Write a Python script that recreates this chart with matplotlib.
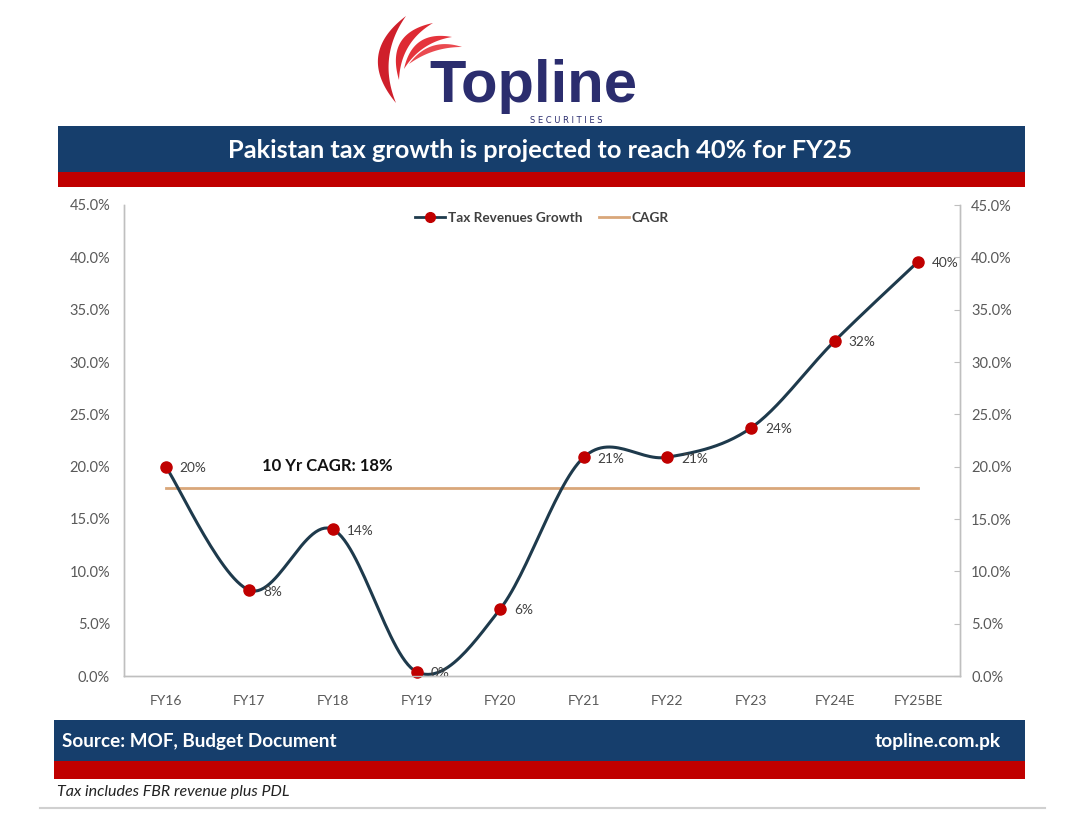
import numpy as np
import matplotlib
matplotlib.use("Agg")
import matplotlib.pyplot as plt
from matplotlib.patches import Rectangle, Polygon
from matplotlib.lines import Line2D

# ---------------- data ----------------
categories = ["FY16", "FY17", "FY18", "FY19", "FY20", "FY21", "FY22", "FY23", "FY24E", "FY25BE"]
growth = [20.0, 8.2, 14.0, 0.4, 6.4, 20.9, 20.9, 23.7, 32.0, 39.6]
growth_labels = ["20%", "8%", "14%", "0%", "6%", "21%", "21%", "24%", "32%", "40%"]
cagr = [18.0] * len(categories)
yticks = [0, 5, 10, 15, 20, 25, 30, 35, 40, 45]

NAVY = "#163e6c"
RED = "#c00000"
LINE = "#1e3a4c"
CAGR_C = "#d9a77a"
TICK_C = "#595959"
LOGO_NAVY = "#2b2d6e"

W, H = 1080, 824
fig = plt.figure(figsize=(W / 100, H / 100), dpi=100)
fig.patch.set_facecolor("white")

# overlay in pixel coordinates
ov = fig.add_axes([0, 0, 1, 1])
ov.set_xlim(0, W)
ov.set_ylim(H, 0)
ov.axis("off")
ov.set_zorder(0)

# banners
ov.add_patch(Rectangle((58, 126), 967, 46, color=NAVY, lw=0))
ov.add_patch(Rectangle((58, 172), 967, 15, color=RED, lw=0))
ov.add_patch(Rectangle((54, 720), 971, 41, color=NAVY, lw=0))
ov.add_patch(Rectangle((54, 761), 971, 18, color=RED, lw=0))
ov.plot([40, 1045], [808, 808], color="#d0d0d0", lw=1.5)

ov.text(540, 150, "Pakistan tax growth is projected to reach 40% for FY25", color="white",
        fontsize=18.3, fontweight="bold", family="Lato", ha="center", va="center")
ov.text(62, 742, "Source: MOF, Budget Document", color="white", fontsize=13.6,
        fontweight="bold", family="Lato", ha="left", va="center")
ov.text(1001, 742, "topline.com.pk", color="white", fontsize=13.8,
        fontweight="bold", family="Lato", ha="right", va="center")
ov.text(57, 792, "Tax includes FBR revenue plus PDL", color="#222222", fontsize=11.5,
        style="italic", family="Lato", ha="left", va="center")

# logo streaks (crescents bulging toward the upper-left)
def crescent(tail, tip, bulge_out, bulge_in, color):
    tail = np.array(tail, float)
    tip = np.array(tip, float)
    t = np.linspace(0, 1, 50)[:, None]
    d = tip - tail
    n = np.array([d[1], -d[0]]) / np.linalg.norm(d)
    c1 = (tail + tip) / 2 + n * bulge_out
    c2 = (tail + tip) / 2 + n * bulge_in
    outer = (1 - t) ** 2 * tail + 2 * (1 - t) * t * c1 + t ** 2 * tip
    inner = (1 - t) ** 2 * tail + 2 * (1 - t) * t * c2 + t ** 2 * tip
    pts = np.vstack([outer, inner[::-1]])
    ov.add_patch(Polygon(pts, closed=True, color=color, lw=0))

crescent((396, 103), (406, 16), 46, 24, "#cf1f2b")
crescent((399, 80), (433, 23), 36, 18, "#de2a33")
crescent((404, 69), (452, 37), 28, 13, "#e5343c")
crescent((409, 64), (462, 47), 20, 9, "#ea4a50")

ov.text(533, 102, "Topline", color=LOGO_NAVY, fontsize=43, fontweight="bold",
        family="Liberation Sans", ha="center", va="baseline")
ov.text(566, 120.5, "S E C U R I T I E S", color=LOGO_NAVY, fontsize=6,
        family="DejaVu Sans", ha="center", va="center")

# ---------------- chart ----------------
l, r = 124 / W, 960 / W
b, t = (H - 676) / H, (H - 205) / H
ax = fig.add_axes([l, b, r - l, t - b])
ax.set_zorder(2)
ax.patch.set_alpha(0)

x = np.arange(len(categories))
y = np.array(growth, float)

# Excel-style smoothed curve (Bezier through the points)
px = np.concatenate([[x[0]], x, [x[-1]]]).astype(float)
py = np.concatenate([[y[0]], y, [y[-1]]])
sx, sy = [], []
tt = np.linspace(0, 1, 30)
for i in range(1, len(px) - 2):
    p0 = np.array([px[i], py[i]])
    p3 = np.array([px[i + 1], py[i + 1]])
    p1 = p0 + (np.array([px[i + 1], py[i + 1]]) - np.array([px[i - 1], py[i - 1]])) / 6
    p2 = p3 - (np.array([px[i + 2], py[i + 2]]) - np.array([px[i], py[i]])) / 6
    bx = (1 - tt) ** 3 * p0[0] + 3 * (1 - tt) ** 2 * tt * p1[0] + 3 * (1 - tt) * tt ** 2 * p2[0] + tt ** 3 * p3[0]
    by = (1 - tt) ** 3 * p0[1] + 3 * (1 - tt) ** 2 * tt * p1[1] + 3 * (1 - tt) * tt ** 2 * p2[1] + tt ** 3 * p3[1]
    sx.extend(bx)
    sy.extend(by)

ax.plot(x, cagr, color=CAGR_C, lw=2, zorder=2, label="CAGR")
ax.plot(sx, sy, color=LINE, lw=2.2, zorder=3, clip_on=False)
ax.plot(x, y, linestyle="none", marker="o", ms=8, color=RED, zorder=4, clip_on=False)

for xi, yi, lab in zip(x, y, growth_labels):
    ax.annotate(lab, (xi, yi), xytext=(10, -1), textcoords="offset points",
                fontsize=9.8, color="#404040", family="Lato", ha="left", va="center")

ax.text(1.15, 19.3, "10 Yr CAGR: 18%", fontsize=12, fontweight="bold",
        family="Lato", color="#111111", ha="left", va="bottom")

# legend
h1 = Line2D([], [], color=LINE, lw=2, marker="o", ms=7, mfc=RED, mec=RED)
h2 = Line2D([], [], color=CAGR_C, lw=2)
ax.legend([h1, h2], ["Tax Revenues Growth", "CAGR"], loc="upper center",
          bbox_to_anchor=(0.5, 1.012), ncol=2, frameon=False,
          prop={"family": "Lato", "size": 9.8, "weight": "bold"},
          handlelength=2.2, handletextpad=0.2, columnspacing=1.2,
          labelcolor="#404040")

ax.set_xlim(-0.5, len(categories) - 0.5)
ax.set_ylim(0, 45)
ax.set_xticks(x)
ax.set_xticklabels(categories, family="Lato", fontsize=10, color=TICK_C)
ax.set_yticks(yticks)
ax.set_yticklabels([f"{v:.1f}%" for v in yticks], family="Lato", fontsize=10.5, color=TICK_C)
ax.tick_params(axis="x", length=0, pad=14)
ax.tick_params(axis="y", length=0, pad=10)

ax2 = ax.twinx()
ax2.set_ylim(0, 45)
ax2.set_yticks(yticks)
ax2.set_yticklabels([f"{v:.1f}%" for v in yticks], family="Lato", fontsize=10.5, color=TICK_C)
ax2.tick_params(axis="y", length=4, direction="in", color="#bfbfbf", pad=8)

for a in (ax, ax2):
    a.spines["top"].set_visible(False)
    for s in ("left", "right", "bottom"):
        a.spines[s].set_color("#bfbfbf")
        a.spines[s].set_linewidth(1)

fig.savefig("out.png", dpi=100)
